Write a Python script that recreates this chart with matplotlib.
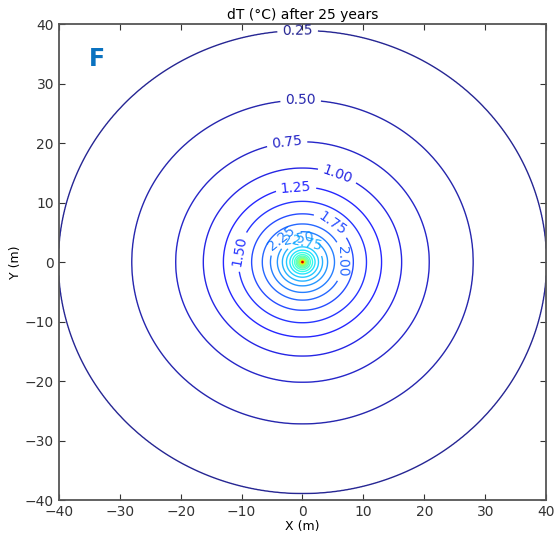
import numpy as np
import matplotlib
matplotlib.use("Agg")
import matplotlib.pyplot as plt

# Temperature rise (degC) against radial distance (m) from the borehole
radius = [0.0, 0.17, 0.4, 0.62, 1.0, 1.25, 1.6, 2.0, 2.55, 3.2, 4.0, 5.1,
          6.4, 8.1, 10.2, 12.6, 15.8, 20.2, 27.2, 38.9, 60.0]
dT = [9.0, 6.0, 5.0, 4.5, 4.0, 3.75, 3.5, 3.25, 3.0, 2.75, 2.5, 2.25,
      2.0, 1.75, 1.5, 1.25, 1.0, 0.75, 0.5, 0.25, 0.05]
x_stretch = 1.03  # plume is slightly wider along x

levels = np.arange(0.25, 9.01, 0.25)
label_levels = [0.25, 0.5, 0.75, 1.0, 1.25, 1.5, 1.75, 2.0, 2.25, 2.5, 2.75]
label_pos = [(-0.8, 38.9), (-0.3, 27.3), (-2.6, 20.6), (5.9, 15.2),
             (-1.1, 12.9), (-10.5, 1.8), (5.1, 6.8), (6.9, 0.1),
             (-3.6, 4.2), (-0.7, 4.3), (0.7, 3.1)]

# grid
x = np.linspace(-40, 40, 801)
y = np.linspace(-40, 40, 801)
X, Y = np.meshgrid(x, y)
R = np.sqrt((X / x_stretch) ** 2 + Y ** 2)
T = np.interp(R, radius, dT)

fig = plt.figure(figsize=(5.55, 5.35), dpi=100)
ax = fig.add_axes([0.106, 0.0654, 0.878, 0.8896])

cs = ax.contour(X, Y, T, levels=levels, cmap="jet",
                vmin=levels[0], vmax=levels[-1], linewidths=1.0, alpha=0.85)
ax.clabel(cs, levels=label_levels, manual=label_pos, fmt="%.2f",
          fontsize=10, inline=True)

ax.text(-35, 33, "F", color="#0a72c0", fontsize=17, fontweight="bold")

ax.set_xlim(-40, 40)
ax.set_ylim(-40, 40)
ax.set_xticks(range(-40, 41, 10))
ax.set_yticks(range(-40, 41, 10))
ax.tick_params(direction="in", top=True, right=True, length=4,
               labelsize=10, colors="#333333")
for s in ax.spines.values():
    s.set_color("#555555")
    s.set_linewidth(1.3)

ax.set_title("dT (°C) after 25 years", fontsize=10, pad=4)
ax.set_xlabel("X (m)", fontsize=9, labelpad=1)
ax.set_ylabel("Y (m)", fontsize=9, labelpad=2)

plt.savefig("out.png", dpi=100)
